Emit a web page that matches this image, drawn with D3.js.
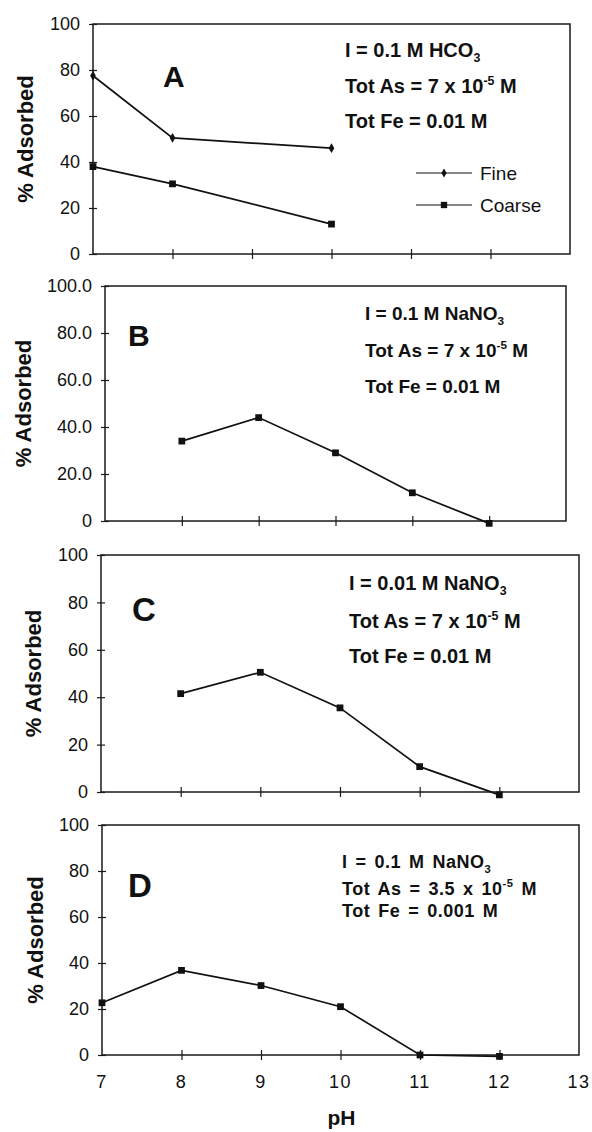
<!DOCTYPE html>
<html>
<head>
<meta charset="utf-8">
<script src="https://cdn.jsdelivr.net/npm/d3@7"></script>
<style>
  body { margin: 0; background: #fff; }
  svg { display: block; }
  text { font-family: "Liberation Sans", Arial, sans-serif; fill: #111; }
</style>
</head>
<body>
<svg id="chart" width="592" height="1132"></svg>
<script>
// ---------- DATA ----------
const pH = [7, 8, 9, 10, 11, 12, 13];
const xTickLabels = ["7", "8", "9", "10", "11", "12", "13"];
const yTicks = [0, 20, 40, 60, 80, 100];
const yTickLabelsA = ["0", "20", "40", "60", "80", "100"];
const yTickLabelsB = ["0", "20.0", "40.0", "60.0", "80.0", "100.0"];
const yTickLabelsC = ["0", "20", "40", "60", "80", "100"];
const yTickLabelsD = ["0", "20", "40", "60", "80", "100"];

const panelLetters = ["A", "B", "C", "D"];
const seriesNames = ["Fine", "Coarse"];

// Panel A: HCO3
const pH_A = [7, 8, 10];
const fineA = [77.5, 50.5, 46];
const coarseA = [38, 30.5, 13];
// Panel B
const pH_B = [8, 9, 10, 11, 12];
const valuesB = [34, 44, 29, 12, -1];
// Panel C
const pH_C = [8, 9, 10, 11, 12];
const valuesC = [41.5, 50.5, 35.5, 10.7, -1.2];
// Panel D
const pH_D = [7, 8, 9, 10, 11, 12];
const valuesD = [22.7, 36.8, 30.2, 21, 0, -0.6];

// Annotation texts: [main, script, scriptType, tail]
const notesA = [["I = 0.1 M HCO", "3", "sub", ""], ["Tot As = 7 x 10", "-5", "sup", " M"], ["Tot Fe = 0.01 M", "", "", ""]];
const notesB = [["I = 0.1 M NaNO", "3", "sub", ""], ["Tot As = 7 x 10", "-5", "sup", " M"], ["Tot Fe = 0.01 M", "", "", ""]];
const notesC = [["I = 0.01 M NaNO", "3", "sub", ""], ["Tot As = 7 x 10", "-5", "sup", " M"], ["Tot Fe = 0.01 M", "", "", ""]];
const notesD = [["I = 0.1 M NaNO", "3", "sub", ""], ["Tot As = 3.5 x 10", "-5", "sup", " M"], ["Tot Fe = 0.001 M", "", "", ""]];

const yLabel = "% Adsorbed";
const xLabel = "pH";

// ---------- LAYOUT ----------
const svg = d3.select("#chart");

const panels = [
  { letter: panelLetters[0], box: [93, 570, 24, 254], yLabels: yTickLabelsA, notes: notesA,
    noteX: 345, noteY: [57, 93, 128], noteSize: 20, noteWS: 0, noteLS: 0, letterPos: [163, 87, 30], yLabelX: 25,
    series: [{ x: pH_A, y: fineA, marker: "diamond" }, { x: pH_A, y: coarseA, marker: "square" }] },
  { letter: panelLetters[1], box: [105, 566, 286, 521], yLabels: yTickLabelsB, notes: notesB,
    noteX: 365, noteY: [320, 357, 393], noteSize: 19, noteWS: 0, noteLS: 0, letterPos: [128, 346, 30], yLabelX: 23,
    series: [{ x: pH_B, y: valuesB, marker: "square" }] },
  { letter: panelLetters[2], box: [101, 579, 555, 792], yLabels: yTickLabelsC, notes: notesC,
    noteX: 349, noteY: [590, 628, 663], noteSize: 20, noteWS: 0, noteLS: 0, letterPos: [132, 621, 33], yLabelX: 33,
    series: [{ x: pH_C, y: valuesC, marker: "square" }] },
  { letter: panelLetters[3], box: [102, 579, 825, 1055], yLabels: yTickLabelsD, notes: notesD,
    noteX: 342, noteY: [868, 895, 917], noteSize: 18, noteWS: 2.5, noteLS: 0.5, letterPos: [128, 897, 33], yLabelX: 35,
    series: [{ x: pH_D, y: valuesD, marker: "square" }] }
];

panels.forEach((p, i) => {
  const [x0, x1, y0, y1] = p.box;
  const x = d3.scaleLinear().domain([pH[0], pH[pH.length - 1]]).range([x0, x1]);
  const y = d3.scaleLinear().domain([0, 100]).range([y1, y0]);
  const g = svg.append("g");

  // Frame
  g.append("rect").attr("x", x0).attr("y", y0).attr("width", x1 - x0).attr("height", y1 - y0)
    .attr("fill", "none").attr("stroke", "#1a1a1a").attr("stroke-width", 1.5);

  // Y axis
  const yAxis = d3.axisLeft(y).tickValues(yTicks).tickSize(4).tickPadding(9)
    .tickFormat((d, k) => p.yLabels[k]);
  const ya = g.append("g").attr("transform", `translate(${x0},0)`).call(yAxis);
  ya.select(".domain").remove();
  ya.selectAll("line").attr("x1", 4).attr("stroke", "#1a1a1a").attr("stroke-width", 1.2);
  ya.selectAll("text").attr("font-size", 18).attr("fill", "#111")
    .style("font-family", '"Liberation Sans", Arial, sans-serif');

  // X axis
  const isLast = i === panels.length - 1;
  const xAxis = d3.axisBottom(x).tickValues(pH.slice(1, -1)).tickSize(5).tickPadding(12)
    .tickFormat(d => isLast ? xTickLabels[pH.indexOf(d)] : "");
  const xa = g.append("g").attr("transform", `translate(0,${y1})`).call(xAxis);
  xa.select(".domain").remove();
  xa.selectAll("line").attr("y1", -5).attr("stroke", "#1a1a1a").attr("stroke-width", 1.2);
  if (isLast) {
    xa.selectAll("text").remove();
    xa.selectAll("text.lab").data(pH).enter().append("text").attr("class", "lab")
      .attr("x", d => x(d)).attr("y", 33).attr("text-anchor", "middle")
      .attr("font-size", 18).attr("letter-spacing", 1.5).attr("fill", "#111")
      .text((d, k) => xTickLabels[k]);
  }

  // Y label
  g.append("text")
    .attr("transform", `translate(${p.yLabelX + 8},${(y0 + y1) / 2}) rotate(-90)`)
    .attr("text-anchor", "middle").attr("font-size", 22).attr("font-weight", "bold")
    .text(yLabel);

  // Panel letter
  g.append("text").attr("x", p.letterPos[0]).attr("y", p.letterPos[1])
    .attr("font-size", p.letterPos[2]).attr("font-weight", "bold").text(p.letter);

  // Notes
  p.notes.forEach((n, k) => {
    const t = g.append("text").attr("x", p.noteX).attr("y", p.noteY[k])
      .attr("font-size", p.noteSize).attr("font-weight", "bold")
      .attr("word-spacing", p.noteWS).attr("letter-spacing", p.noteLS);
    t.append("tspan").text(n[0]);
    if (n[1]) {
      const dy = n[2] === "sub" ? 5 : -8;
      t.append("tspan").attr("dy", dy).attr("font-size", p.noteSize * 0.62).text(n[1]);
      if (n[3]) t.append("tspan").attr("dy", -dy).text(n[3]);
    }
  });

  // Series
  p.series.forEach(s => {
    const pts = s.x.map((v, k) => [v, s.y[k]]);
    g.append("path").datum(pts)
      .attr("d", d3.line().x(d => x(d[0])).y(d => y(d[1])))
      .attr("fill", "none").attr("stroke", "#111").attr("stroke-width", 1.7);
    const sym = s.marker === "diamond"
      ? d3.symbol().type(d3.symbolDiamond).size(28)
      : d3.symbol().type(d3.symbolSquare).size(46);
    g.selectAll(null).data(pts).enter().append("path")
      .attr("d", sym).attr("transform", d => `translate(${x(d[0])},${y(d[1])})`)
      .attr("fill", "#111");
  });

  // Legend (panel A only)
  if (i === 0) {
    const legY = [173, 205];
    const legMarkers = ["diamond", "square"];
    seriesNames.forEach((name, k) => {
      g.append("line").attr("x1", 416).attr("x2", 472).attr("y1", legY[k]).attr("y2", legY[k])
        .attr("stroke", "#111").attr("stroke-width", 1.2);
      const sym = legMarkers[k] === "diamond"
        ? d3.symbol().type(d3.symbolDiamond).size(24)
        : d3.symbol().type(d3.symbolSquare).size(40);
      g.append("path").attr("d", sym).attr("transform", `translate(444,${legY[k]})`).attr("fill", "#111");
      g.append("text").attr("x", 480).attr("y", legY[k] + 7).attr("font-size", 19).text(name);
    });
  }
});

// X axis title
const last = panels[panels.length - 1];
svg.append("text").attr("x", (last.box[0] + last.box[1]) / 2 + 1).attr("y", 1125)
  .attr("text-anchor", "middle").attr("font-size", 21).attr("font-weight", "bold").text(xLabel);
</script>
</body>
</html>
